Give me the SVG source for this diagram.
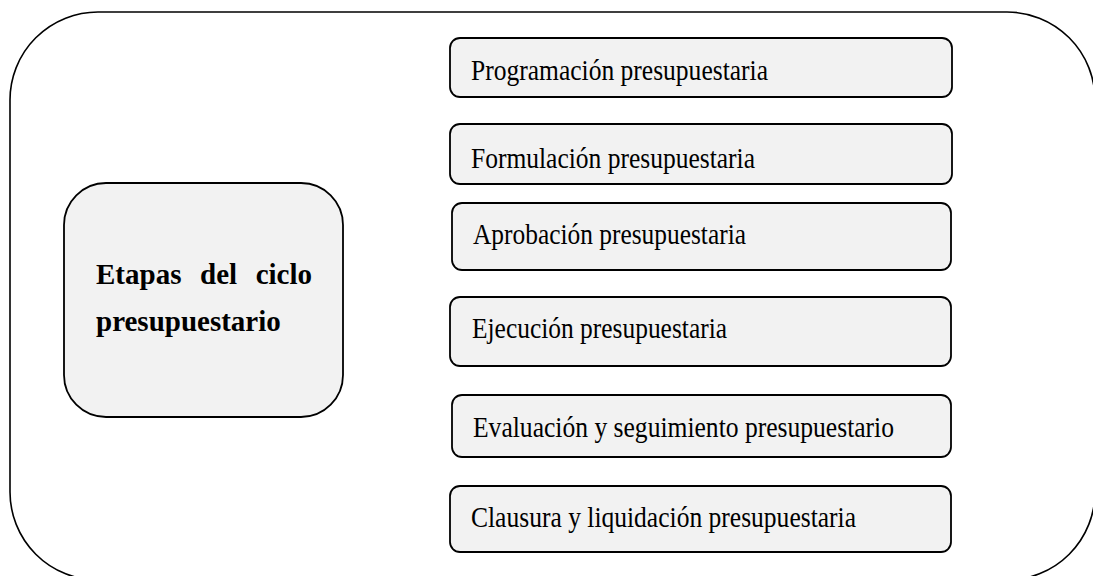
<svg xmlns="http://www.w3.org/2000/svg" width="1093" height="576" viewBox="0 0 1093 576">
<style>
.frame{fill:#ffffff;stroke:#000;stroke-width:1.6}
.box{fill:#f2f2f2;stroke:#000;stroke-width:1.8}
.t{font-family:"Liberation Serif","Times New Roman",serif;font-size:30px;fill:#000}
.b{font-family:"Liberation Serif","Times New Roman",serif;font-size:29px;font-weight:bold;fill:#000}
</style>
<rect width="1093" height="576" fill="#ffffff"/>
<g id="frame"><rect class="frame" x="10" y="12" width="1085" height="568" rx="88" ry="88"/></g>
<g id="connectors"></g>
<g id="main">
<rect class="box" x="64" y="183" width="279" height="234" rx="42" ry="42"/>
<text class="b" x="96" y="284">Etapas</text>
<text class="b" x="200" y="284">del</text>
<text class="b" x="312" y="284" text-anchor="end">ciclo</text>
<text class="b" x="96" y="331">presupuestario</text>
</g>
<g id="n1"><rect class="box" x="450" y="38" width="502" height="59" rx="10"/><text class="t" x="471" y="80" textLength="297" lengthAdjust="spacingAndGlyphs">Programación presupuestaria</text></g>
<g id="n2"><rect class="box" x="450" y="124" width="502" height="60" rx="10"/><text class="t" x="471" y="168" textLength="284" lengthAdjust="spacingAndGlyphs">Formulación presupuestaria</text></g>
<g id="n3"><rect class="box" x="452" y="203" width="499" height="67" rx="10"/><text class="t" x="473" y="244" textLength="273" lengthAdjust="spacingAndGlyphs">Aprobación presupuestaria</text></g>
<g id="n4"><rect class="box" x="450" y="297" width="501" height="69" rx="10"/><text class="t" x="472" y="338" textLength="255" lengthAdjust="spacingAndGlyphs">Ejecución presupuestaria</text></g>
<g id="n5"><rect class="box" x="452" y="395" width="499" height="62" rx="10"/><text class="t" x="473" y="437" textLength="421" lengthAdjust="spacingAndGlyphs">Evaluación y seguimiento presupuestario</text></g>
<g id="n6"><rect class="box" x="450" y="486" width="501" height="66" rx="10"/><text class="t" x="471" y="527" textLength="385" lengthAdjust="spacingAndGlyphs">Clausura y liquidación presupuestaria</text></g>
</svg>
